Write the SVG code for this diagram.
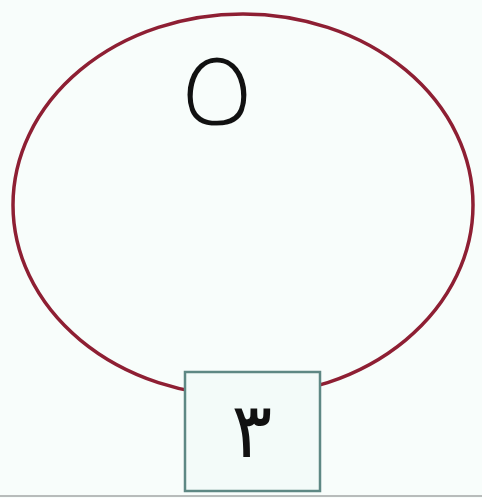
<svg xmlns="http://www.w3.org/2000/svg" width="482" height="498" viewBox="0 0 482 498">
<style>
.loop{fill:none;stroke:#8e1f33;stroke-width:3.5}
.box{fill:#f3fbf9;stroke:#5e8884;stroke-width:2.5}
.num{fill:#111;text-anchor:middle}
.five{font-family:"Noto Sans Arabic","DejaVu Sans",sans-serif;stroke:#f8fdfb;stroke-width:7}
.three{font-family:"DejaVu Sans",sans-serif}
</style>
<rect width="482" height="498" fill="#f8fdfb"/>
<line x1="0" y1="496" x2="482" y2="496" stroke="#b8bcbb" stroke-width="2"/>
<g id="connectors">
<ellipse class="loop" cx="243" cy="205" rx="230" ry="191"/>
</g>
<g id="label5">
<text class="num five" x="0" y="0" font-size="145" transform="translate(217,128) scale(1.15,1)">٥</text>
</g>
<g id="box3">
<rect class="box" x="185" y="372" width="135" height="119"/>
<text class="num three" x="252" y="457" font-size="76">٣</text>
</g>
</svg>
